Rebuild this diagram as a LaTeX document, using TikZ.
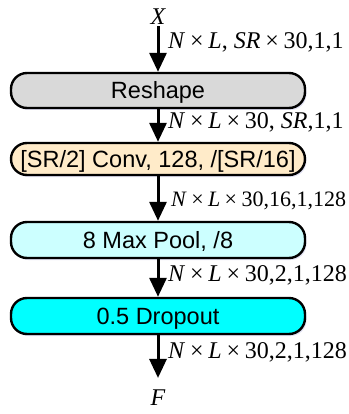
\documentclass[tikz,border=0pt]{standalone}
\usepackage{fontspec}
\setmainfont{Liberation Serif}
\setsansfont{Liberation Sans}
\usetikzlibrary{arrows.meta,shadows}

% italic variable and spaced times sign for the shape labels
\newcommand\vr[1]{\textit{#1}}
\newcommand\tms{\hspace{0.2em}×\hspace{0.2em}}

\definecolor{reshapegray}{HTML}{D9D9D9}
\definecolor{convpeach}{HTML}{FFEBC9}
\definecolor{poolcyan}{HTML}{CCFFFF}
\definecolor{dropcyan}{HTML}{00FFFF}

\tikzset{
  layer/.style={draw=black, line width=2.4pt, rounded corners=16pt,
    minimum width=294pt, inner sep=0pt, text height=16.5pt, text depth=0pt,
    font=\sffamily\fontsize{23.5}{23.5}\selectfont,
    drop shadow={opacity=0.18, shadow xshift=1.5pt, shadow yshift=-2pt, fill=blue!40!gray}},
  flow/.style={line width=3pt, -{Triangle[width=17pt,length=19pt]}},
  shapelabel/.style={anchor=west, inner sep=0pt, font=\fontsize{24}{24}\selectfont},
  endvar/.style={inner sep=1pt, font=\itshape\fontsize{24}{24}\selectfont}
}

\begin{document}
\begin{tikzpicture}[x=1pt, y=-1pt]
  \useasboundingbox (0,0) rectangle (348,414);

  % input and output symbols
  \node[endvar] (X) at (158,17) {X};
  \node[endvar] (F) at (158,398) {F};

  % layer stack
  \node[layer, fill=reshapegray, minimum height=35pt] (reshape) at (158,90.5) {Reshape};
  \node[layer, fill=convpeach, minimum height=32pt] (conv) at (158,159) {[SR/2] Conv, 128, /[SR/16]};
  \node[layer, fill=poolcyan, minimum height=36pt] (pool) at (158,240) {8 Max Pool, /8};
  \node[layer, fill=dropcyan, minimum height=36pt] (drop) at (158,316) {0.5 Dropout};

  % data flow
  \draw[flow] (X.south) -- (reshape.north);
  \draw[flow] (reshape.south) -- (conv.north);
  \draw[flow] (conv.south) -- (pool.north);
  \draw[flow] (pool.south) -- (drop.north);
  \draw[flow, shorten >=11pt] (drop.south) -- (F.north);

  % tensor shapes along the arrows
  \node[shapelabel] (s1) at (168,42) {\vr{N}\tms\vr{L}, \vr{SR}\tms30,1,1};
  \node[shapelabel] (s2) at (168,122) {\vr{N}\tms\vr{L}\tms30, \vr{SR},1,1};
  \node[shapelabel, font=\fontsize{22}{22}\selectfont] (s3) at (171,201) {\vr{N}\tms\vr{L}\tms30,16,1,128};
  \node[shapelabel] (s4) at (168,275) {\vr{N}\tms\vr{L}\tms30,2,1,128};
  \node[shapelabel] (s5) at (168,352) {\vr{N}\tms\vr{L}\tms30,2,1,128};
\end{tikzpicture}
\end{document}
